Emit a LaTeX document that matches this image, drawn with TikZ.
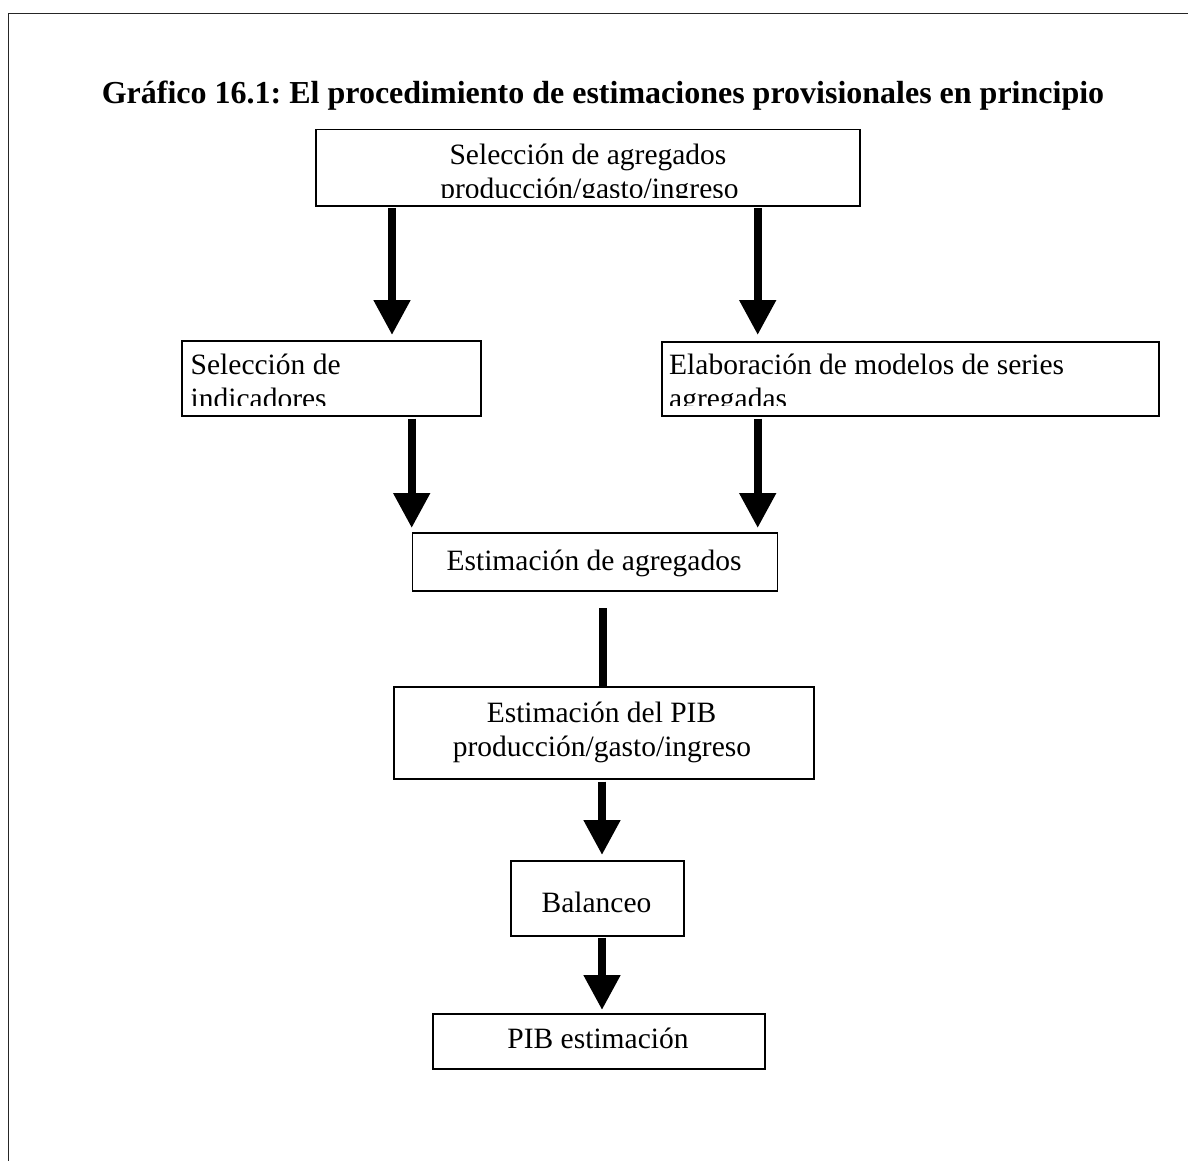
\documentclass[tikz,border=0pt]{standalone}
\usepackage{fontspec}
\setmainfont{Liberation Serif}
\usetikzlibrary{arrows.meta}
\frenchspacing
\tikzset{
  box/.style={draw=black, line width=1.5pt, rectangle, inner sep=0pt, anchor=north west},
  txt/.style={inner sep=0pt, anchor=base, font=\fontsize{29.5}{34}\selectfont},
  txtl/.style={inner sep=0pt, anchor=base west, font=\fontsize{29.5}{34}\selectfont},
  bigarrow/.style={line width=8pt, -{Triangle[width=35pt,length=35pt]}},
  bar/.style={line width=8pt},
  frameline/.style={draw=black!85, line width=1.8pt}
}
\begin{document}
\begin{tikzpicture}[x=1pt,y=-1pt]
\useasboundingbox (0,0) rectangle (1188,1161);
% frame
\coordinate (f0) at (8.5,1161);
\coordinate (f1) at (8.5,13.5);
\coordinate (f2) at (1188,13.5);
\draw[frameline] (f0) -- (f1) -- (f2);
% title
\node[inner sep=0pt, anchor=base, font=\fontsize{32}{37}\selectfont\bfseries] (title) at (603,104) {Gráfico 16.1: El procedimiento de estimaciones provisionales en principio};
% boxes
\node[box, minimum width=544pt, minimum height=76.5pt] (A) at (315,129) {};
\node[box, minimum width=299pt, minimum height=75pt] (B) at (181,340) {};
\node[box, minimum width=497pt, minimum height=74pt] (C) at (661,341) {};
\node[box, minimum width=365pt, minimum height=58pt] (D) at (411.7,532) {};
\node[box, minimum width=420pt, minimum height=92pt] (E) at (393,686) {};
\node[box, minimum width=173pt, minimum height=75pt] (F) at (510,860) {};
\node[box, minimum width=332pt, minimum height=55pt] (G) at (432,1013) {};
% texts (clipped like the reference)
\begin{scope}
\clip (316,130) rectangle (858,197.5);
\node[txt] (tA1) at (588,165) {Selección de agregados};
\node[txt] (tA2) at (589.5,199) {producción/gasto/ingreso};
\end{scope}
\begin{scope}
\clip (182,341) rectangle (479,405);
\node[txtl] (tB1) at (190.5,374.5) {Selección de};
\node[txtl] (tB2) at (190.5,408.5) {indicadores};
\end{scope}
\begin{scope}
\clip (662,342) rectangle (1157,405);
\node[txtl] (tC1) at (669,374.5) {Elaboración de modelos de series};
\node[txtl] (tC2) at (669,408.5) {agregadas};
\end{scope}
\node[txt] (tD) at (594,570) {Estimación de agregados};
\node[txt] (tE1) at (601.5,722) {Estimación del PIB};
\node[txt] (tE2) at (602,756) {producción/gasto/ingreso};
\node[txt] (tF) at (596.5,912) {Balanceo};
\node[txt] (tG) at (598,1048) {PIB estimación};
% connectors
\coordinate (x1) at (392,0);
\coordinate (x2) at (757.7,0);
\coordinate (x3) at (411.7,0);
\coordinate (x4) at (603.3,0);
\coordinate (x5) at (602,0);
\draw[bigarrow] ([yshift=-1pt]A.south -| x1) -- ([yshift=5pt]B.north -| x1);
\draw[bigarrow] ([yshift=-1pt]A.south -| x2) -- ([yshift=6pt]C.north -| x2);
\draw[bigarrow] ([yshift=-2pt]B.south -| x3) -- ([yshift=4pt]D.north -| x3);
\draw[bigarrow] ([yshift=-2pt]C.south -| x2) -- ([yshift=4pt]D.north -| x2);
\draw[bar] ([yshift=-16.7pt]D.south -| x4) -- (E.north -| x4);
\draw[bigarrow] ([yshift=-2pt]E.south -| x5) -- ([yshift=5pt]F.north -| x5);
\draw[bigarrow] ([yshift=-1pt]F.south -| x5) -- ([yshift=3pt]G.north -| x5);
\end{tikzpicture}
\end{document}
